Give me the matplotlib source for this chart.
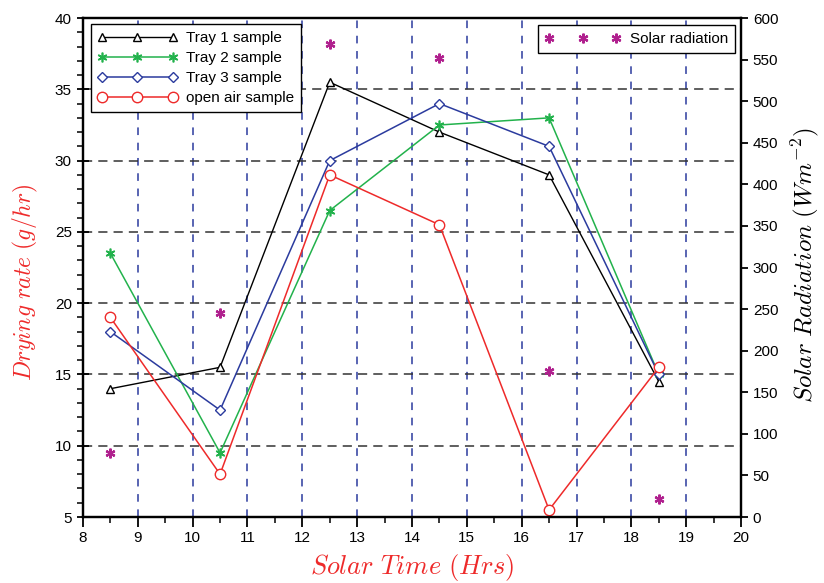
import numpy as np
import matplotlib.pyplot as plt
from matplotlib.ticker import MultipleLocator

plt.rcParams['font.family'] = ['Liberation Sans', 'DejaVu Sans']
plt.rcParams['mathtext.fontset'] = 'cm'

# Datos
hora = [8.5, 10.5, 12.5, 14.5, 16.5, 18.5]
bandeja1 = [14, 15.5, 35.5, 32, 29, 14.5]
bandeja2 = [23.5, 9.5, 26.5, 32.5, 33, 15]
bandeja3 = [18, 12.5, 30, 34, 31, 15]
aire_libre = [19, 8, 29, 25.5, 5.5, 15.5]
radiacion = [77, 245, 569, 552, 175, 22]

fig = plt.figure(figsize=(8.24, 5.83), dpi=100)
ax = fig.add_axes([0.1007, 0.1132, 0.7986, 0.8558])
ax2 = ax.twinx()

ast = (6, 2, 0)
ax.plot(hora, bandeja1, '-', color='black', lw=1, marker='^', ms=5.5,
        mfc='white', mec='black', mew=1, label='Tray 1 sample')
ax.plot(hora, bandeja2, '-', color='#22b24c', lw=1.1, marker=ast, ms=7,
        mec='#22b24c', mew=1.2, label='Tray 2 sample')
ax.plot(hora, bandeja3, '-', color='#2b3b9e', lw=1.1, marker='D', ms=5.5,
        mfc='white', mec='#2b3b9e', mew=1, label='Tray 3 sample')
ax.plot(hora, aire_libre, '-', color='#ee2a2a', lw=1.1, marker='o', ms=7.5,
        mfc='white', mec='#ee2a2a', mew=1, label='open air sample')

ax2.plot(hora, radiacion, ls='none', marker=ast, ms=7, color='#b0208e',
         mec='#b0208e', mew=1.6, label='Solar radiation')

# Rejilla
for xg in range(9, 20):
    ax.axvline(xg, color='#2b3b9e', lw=1.1, ls=(0, (5, 5)), zorder=0.5)
for yg in range(10, 40, 5):
    ax.axhline(yg, color='#333333', lw=1.1, ls=(0, (6, 4)), zorder=0.5)

ax.set_xlim(8, 20)
ax.set_ylim(5, 40)
ax2.set_ylim(0, 600)
ax.xaxis.set_major_locator(MultipleLocator(1))
ax.xaxis.set_minor_locator(MultipleLocator(0.5))
ax.yaxis.set_major_locator(MultipleLocator(5))
ax.yaxis.set_minor_locator(MultipleLocator(1))
ax2.yaxis.set_major_locator(MultipleLocator(50))

for s in ax.spines.values():
    s.set_linewidth(1.6)
for s in ax2.spines.values():
    s.set_linewidth(1.6)

ax.tick_params(axis='x', which='major', direction='out', length=7, width=1.3,
               labelsize=11, pad=3)
ax.tick_params(axis='x', which='minor', direction='out', length=4, width=1.1)
ax.tick_params(axis='y', which='major', direction='inout', length=9, width=1.3,
               labelsize=11)
ax.tick_params(axis='y', which='minor', direction='out', length=4, width=1.1)
ax2.tick_params(axis='y', which='major', direction='out', length=5, width=1.3,
                labelsize=11)

ax.set_xlabel(r'$Solar\ Time\ (Hrs)$', color='#ee2a2a', fontsize=19, labelpad=5)
ax.set_ylabel(r'$Drying\ rate\ (g/hr)$', color='#ee2a2a', fontsize=17,
              labelpad=11, y=0.47)
ax2.set_ylabel(r'$Solar\ Radiation\ (Wm^{-2})$', color='black', fontsize=18,
               labelpad=8, y=0.505)

leg1 = ax.legend(loc='upper left', bbox_to_anchor=(0.012, 0.988), numpoints=3,
                 fontsize=11, fancybox=False, edgecolor='black',
                 framealpha=1, handlelength=5.2, borderpad=0.45, labelspacing=0.4,
                 handletextpad=0.6, borderaxespad=0)
leg1.get_frame().set_linewidth(1)
leg2 = ax2.legend(loc='upper right', bbox_to_anchor=(0.991, 0.986), numpoints=3,
                  fontsize=11, fancybox=False, edgecolor='black',
                  framealpha=1, handlelength=5, borderpad=0.45,
                  handletextpad=0.6, borderaxespad=0)
leg2.get_frame().set_linewidth(1)

fig.savefig('out.png', dpi=100)
